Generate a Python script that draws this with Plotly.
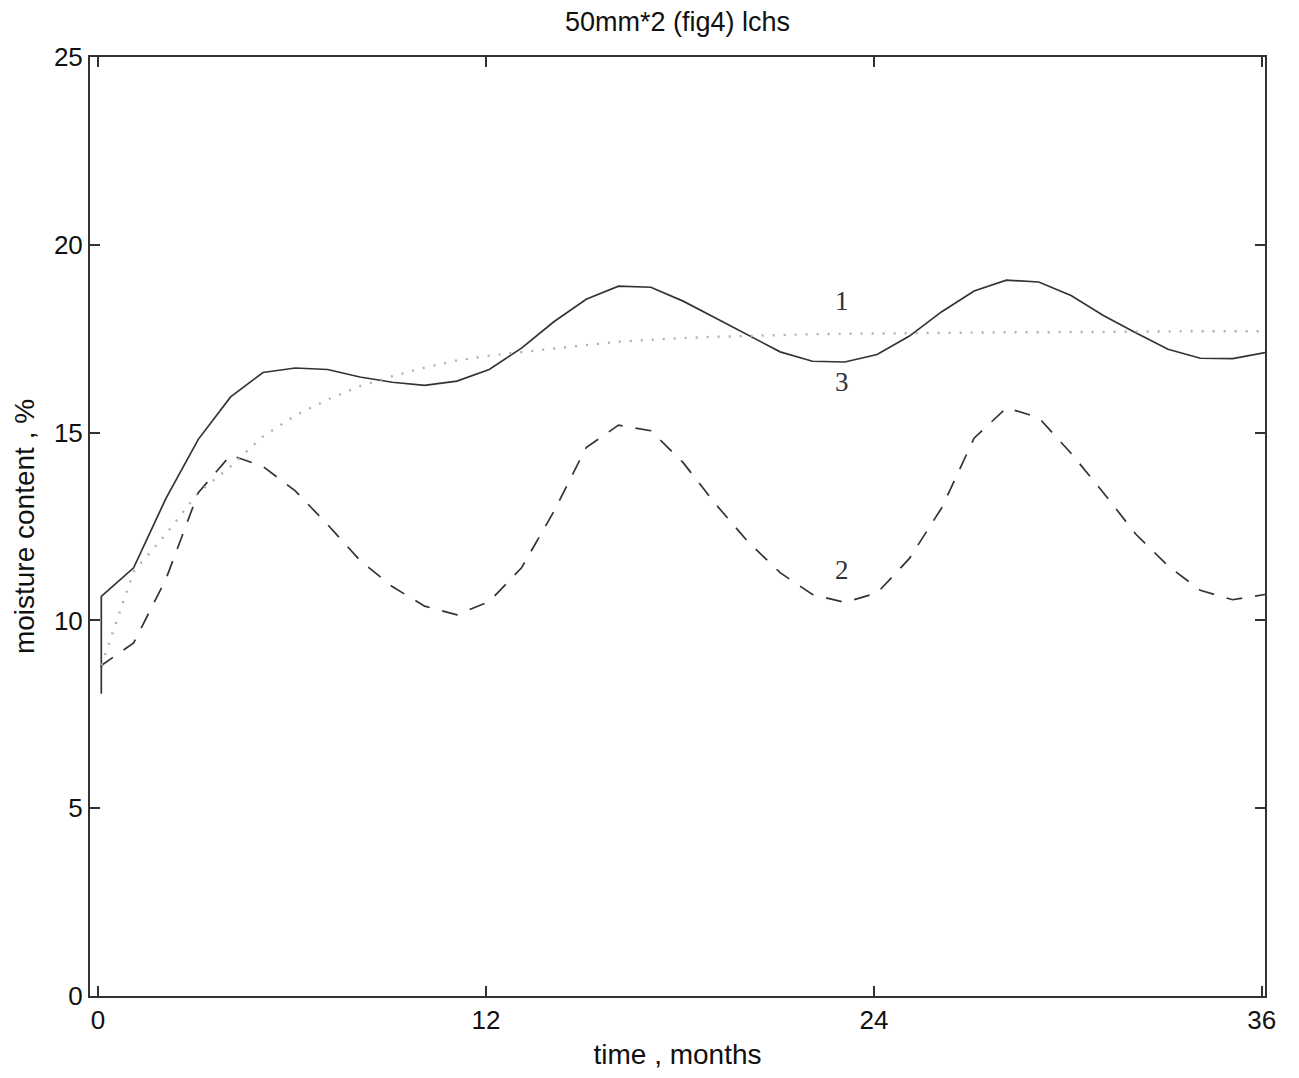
import plotly.graph_objects as go

# months (sampled at k + 0.1), first sample duplicated for the initial jump
months = [0.1] + [k + 0.1 for k in range(37)]

curve1 = [8.05, 10.64, 11.4, 13.25, 14.82, 15.95, 16.6, 16.72, 16.68, 16.48, 16.34, 16.26, 16.37,
          16.68, 17.25, 17.95, 18.55, 18.9, 18.87, 18.5, 18.05, 17.6, 17.15, 16.9, 16.88,
          17.08, 17.57, 18.22, 18.77, 19.06, 19.01, 18.65, 18.12, 17.66, 17.22, 16.98, 16.97, 17.13]

curve2 = [8.75, 8.8, 9.4, 11.1, 13.4, 14.4, 14.1, 13.45, 12.55, 11.6, 10.9, 10.38, 10.15,
          10.5, 11.4, 12.9, 14.6, 15.2, 15.05, 14.2, 13.1, 12.1, 11.27, 10.69, 10.48,
          10.73, 11.65, 13.0, 14.85, 15.66, 15.4, 14.45, 13.4, 12.3, 11.45, 10.8, 10.55, 10.69]

curve3 = [8.8, 8.8, 11.3, 12.3, 13.4, 14.1, 14.9, 15.45, 15.88, 16.24, 16.5, 16.73, 16.92,
          17.05, 17.15, 17.25, 17.33, 17.42, 17.48, 17.52, 17.55, 17.58, 17.6, 17.62, 17.63,
          17.64, 17.65, 17.66, 17.66, 17.67, 17.67, 17.68, 17.68, 17.69, 17.69, 17.7, 17.7, 17.7]

labels = ["1", "2", "3"]
label_x = [23.0, 23.0, 23.0]
label_y = [18.5, 11.35, 16.35]

x_ticks = [0, 12, 24, 36]
y_ticks = [0, 5, 10, 15, 20, 25]

fig = go.Figure()
fig.add_trace(go.Scatter(x=months, y=curve1, mode="lines",
                         line=dict(color="#333333", width=1.7)))
fig.add_trace(go.Scatter(x=months, y=curve2, mode="lines",
                         line=dict(color="#333333", width=1.7, dash="16px,13px")))
fig.add_trace(go.Scatter(x=months, y=curve3, mode="lines",
                         line=dict(color="#b0b0b0", width=2.4, dash="2px,9px")))

for t, lx, ly in zip(labels, label_x, label_y):
    fig.add_annotation(x=lx, y=ly, text=t, showarrow=False,
                       font=dict(family="Liberation Serif", size=27, color="#333333"))

axis_common = dict(showgrid=False, zeroline=False, showline=True, linecolor="#333333",
                   linewidth=2, mirror="ticks", ticks="inside", ticklen=10,
                   tickcolor="#333333", tickwidth=1.5,
                   tickfont=dict(family="Liberation Sans", size=26, color="#111111"))

fig.update_layout(
    width=1299, height=1078,
    margin=dict(l=82, r=42, t=49, b=90),
    paper_bgcolor="white", plot_bgcolor="white",
    showlegend=False,
    title=dict(text="50mm*2 (fig4) lchs", xref="paper", x=0.5, xanchor="center",
               yref="container", y=0.987, yanchor="middle",
               font=dict(family="Liberation Sans", size=27, color="#111111")),
    xaxis=dict(range=[-0.25, 36.1], tickvals=x_ticks, ticktext=[str(v) for v in x_ticks],
               title=dict(text="time , months", standoff=10,
                          font=dict(family="Liberation Sans", size=28, color="#111111")),
               **axis_common),
    yaxis=dict(range=[0, 25], tickvals=y_ticks, ticktext=[str(v) for v in y_ticks],
               title=dict(text="moisture content , %", standoff=11,
                          font=dict(family="Liberation Sans", size=28, color="#111111")),
               **axis_common),
)

fig.write_html("out.html")
